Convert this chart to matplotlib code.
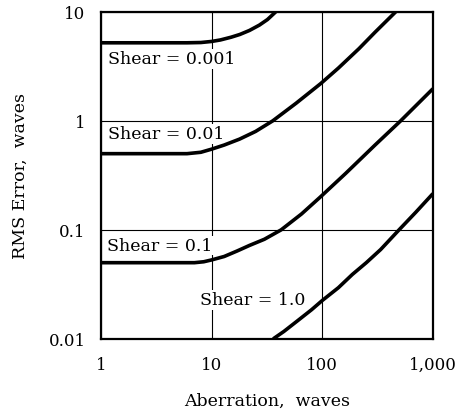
import matplotlib
matplotlib.use('Agg')
import matplotlib.pyplot as plt
from matplotlib.ticker import FixedLocator, NullLocator

# データ----------------------------------
x_s0001 = [1, 6, 8, 10, 12, 15, 18, 22, 27, 32, 38]
y_s0001 = [5.2, 5.2, 5.23, 5.35, 5.52, 5.85, 6.2, 6.75, 7.55, 8.5, 10]

x_s001 = [1, 6, 8, 10, 13, 17.9, 25, 35.7, 58, 97, 140, 215, 300, 461]
y_s001 = [0.5, 0.5, 0.515, 0.55, 0.6, 0.68, 0.8, 1.0, 1.45, 2.2, 3.05, 4.6, 6.5, 10]

x_s01 = [1, 7, 8.5, 10, 13, 17, 22, 30, 42.5, 65, 96, 163, 300, 511, 1000]
y_s01 = [0.05, 0.05, 0.051, 0.053, 0.057, 0.064, 0.072, 0.082, 0.1, 0.14, 0.2, 0.33, 0.6, 1.0, 1.97]

x_s1 = [36, 45, 60, 80, 100, 140, 187, 250, 337, 494, 700, 1000]
y_s1 = [0.01, 0.0117, 0.0147, 0.0185, 0.0225, 0.0295, 0.039, 0.05, 0.066, 0.1, 0.145, 0.215]

labels = ['Shear = 0.001', 'Shear = 0.01', 'Shear = 0.1', 'Shear = 1.0']
label_x = [1.16, 1.16, 1.13, 7.8]
label_y = [3.7, 0.76, 0.0718, 0.0228]

xticks = [1, 10, 100, 1000]
xticklabels = ['1', '10', '100', '1,000']
yticks = [0.01, 0.1, 1, 10]
yticklabels = ['0.01', '0.1', '1', '10']

# グラフ化-------------------------
plt.rcParams['font.family'] = ['DejaVu Serif']

fig = plt.figure(figsize=(4.65, 4.14), dpi=100)
ax = fig.add_axes([0.217, 0.179, 0.714, 0.79])

ax.set_xscale('log')
ax.set_yscale('log')
ax.set_xlim(1, 1000)
ax.set_ylim(0.01, 10)

for xs, ys in [(x_s0001, y_s0001), (x_s001, y_s001), (x_s01, y_s01), (x_s1, y_s1)]:
    ax.plot(xs, ys, color='black', lw=2.6, solid_joinstyle='round',
            solid_capstyle='butt', zorder=3)

ax.xaxis.set_major_locator(FixedLocator(xticks))
ax.yaxis.set_major_locator(FixedLocator(yticks))
ax.xaxis.set_minor_locator(NullLocator())
ax.yaxis.set_minor_locator(NullLocator())
ax.set_xticklabels(xticklabels)
ax.set_yticklabels(yticklabels)
ax.tick_params(axis='both', length=0, labelsize=12)
ax.tick_params(axis='x', pad=12)
ax.tick_params(axis='y', pad=11)

ax.grid(True, color='black', lw=0.8, zorder=1)
for s in ax.spines.values():
    s.set_linewidth(1.6)

# ラベルは格子線の上、曲線の下
for t, lx, ly in zip(labels, label_x, label_y):
    ax.text(lx, ly, t, fontsize=12.5, va='center', ha='left', zorder=2,
            bbox=dict(facecolor='white', edgecolor='none', pad=1))

ax.set_xlabel('Aberration,  waves', fontsize=12.5, labelpad=14)
ax.set_ylabel('RMS Error,  waves', fontsize=12.5, labelpad=14)

plt.savefig('out.png', dpi=100)
